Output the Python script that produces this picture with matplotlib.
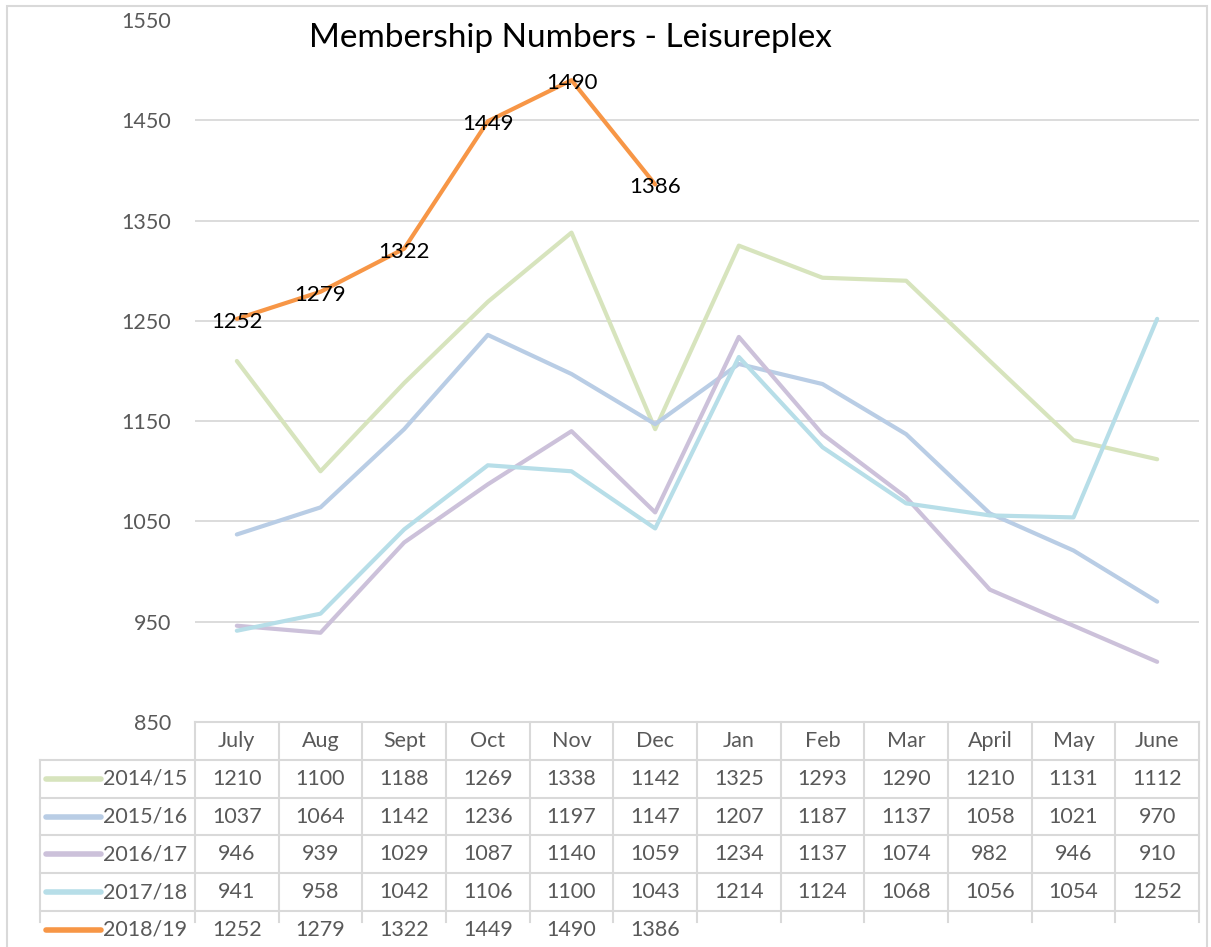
import matplotlib.pyplot as plt
from matplotlib.patches import Rectangle

plt.rcParams['font.family'] = ['Lato', 'DejaVu Sans']

months = ["July", "Aug", "Sept", "Oct", "Nov", "Dec", "Jan", "Feb", "Mar", "April", "May", "June"]
seasons = ["2014/15", "2015/16", "2016/17", "2017/18", "2018/19"]
colors = ["#D7E4BD", "#B9CDE5", "#CCC1DA", "#B7DEE8", "#F79646"]

v1415 = [1210, 1100, 1188, 1269, 1338, 1142, 1325, 1293, 1290, 1210, 1131, 1112]
v1516 = [1037, 1064, 1142, 1236, 1197, 1147, 1207, 1187, 1137, 1058, 1021, 970]
v1617 = [946, 939, 1029, 1087, 1140, 1059, 1234, 1137, 1074, 982, 946, 910]
v1718 = [941, 958, 1042, 1106, 1100, 1043, 1214, 1124, 1068, 1056, 1054, 1252]
v1819 = [1252, 1279, 1322, 1449, 1490, 1386]
series = [v1415, v1516, v1617, v1718, v1819]

W, H = 1211, 947
fs = 15.5
fig = plt.figure(figsize=(W / 100, H / 100), dpi=100)
# plot area in pixels: x 195..1199, y 20..722
ax = fig.add_axes([195 / W, 1 - 722 / H, (1199 - 195) / W, 702 / H])

grid_c = "#D9D9D9"
text_c = "#595959"

# chart border
fig.patches.append(Rectangle((7 / W, -0.1), (1207 - 7) / W, 1.1 - 6 / H,
                             transform=fig.transFigure, fill=False,
                             edgecolor=grid_c, linewidth=1.5))

for vals, c in zip(series, colors):
    ax.plot(range(len(vals)), vals, color=c, linewidth=3, solid_capstyle='round', zorder=3)

for i, v in enumerate(v1819):
    ax.text(i, v - 3, str(v), ha='center', va='center', fontsize=fs + 0.5, color='black', zorder=4)

ax.set_xlim(-0.5, 11.5)
ax.set_ylim(850, 1550)
ax.set_yticks(range(850, 1551, 100))
ax.tick_params(axis='y', length=0, pad=17, labelsize=fs, labelcolor=text_c)
ax.set_xticks([])
for s in ax.spines.values():
    s.set_visible(False)
for y in range(950, 1451, 100):
    ax.axhline(y, color=grid_c, linewidth=1.3, zorder=1)

fig.text(570 / W, 1 - 38 / H, "Membership Numbers - Leisureplex", ha='center', va='center',
         fontsize=24, color='black')

# data table below the axis
tr = ax.get_xaxis_transform()
h = 37.8 / 702
colw = (1199 - 195) / 12
left = -0.5 - 155 / colw
bottom = -h * 5.3

ax.plot([-0.5, 11.5], [0, 0], color=grid_c, lw=1.5, transform=tr, clip_on=False)
for k in range(1, 6):
    ax.plot([left, 11.5], [-h * k, -h * k], color=grid_c, lw=1.5, transform=tr, clip_on=False)
for i in range(13):
    ax.plot([i - 0.5, i - 0.5], [0, bottom], color=grid_c, lw=1.5, transform=tr, clip_on=False)
ax.plot([left, left], [-h, bottom], color=grid_c, lw=1.5, transform=tr, clip_on=False)

for i, m in enumerate(months):
    ax.text(i, -h * 0.5, m, ha='center', va='center', fontsize=fs, color=text_c,
            transform=tr, clip_on=False)

sw0 = -0.5 - 149 / colw
sw1 = -0.5 - 94 / colw
lab_x = -0.5 - 8 / colw
for r, (name, vals, c) in enumerate(zip(seasons, series, colors)):
    yc = -h * (r + 1.5)
    ax.plot([sw0, sw1], [yc, yc], color=c, lw=4, solid_capstyle='round',
            transform=tr, clip_on=False)
    ax.text(lab_x, yc, name, ha='right', va='center', fontsize=fs, color=text_c,
            transform=tr, clip_on=False)
    for i, v in enumerate(vals):
        ax.text(i, yc, str(v), ha='center', va='center', fontsize=fs, color=text_c,
                transform=tr, clip_on=False)

fig.savefig("out.png", dpi=100)
